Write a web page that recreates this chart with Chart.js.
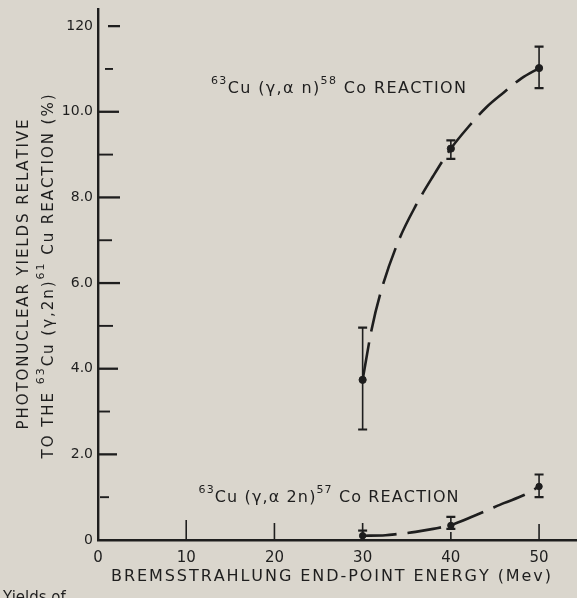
<!DOCTYPE html>
<html><head><meta charset="utf-8">
<script src="https://cdn.jsdelivr.net/npm/chart.js@4/dist/chart.umd.min.js"></script>
<style>html,body{margin:0;padding:0;background:#dad6cd;overflow:hidden}canvas{display:block}</style>
</head><body>
<canvas id="c" width="577" height="598"></canvas>
<script>
// ---- data ----
const energyMeV = [30, 40, 50];
const anYield = [3.74, 9.14, 11.02];
const anErrLow = [2.58, 8.90, 10.55];
const anErrHigh = [4.96, 9.33, 11.52];
const a2nYield = [0.10, 0.34, 1.25];
const a2nErrLow = [0.00, 0.26, 1.00];
const a2nErrHigh = [0.22, 0.54, 1.53];
// hand-drawn fitted curves
const anCurveX = [30, 31, 32, 34, 36, 38, 40, 42, 44, 46, 48, 50];
const anCurveY = [3.74, 4.90, 5.75, 6.95, 7.80, 8.50, 9.14, 9.65, 10.10, 10.45, 10.78, 11.02];
const a2nCurveX = [30, 32.6, 34, 36, 38, 40, 42.6, 44.2, 46, 48.3, 50];
const a2nCurveY = [0.10, 0.11, 0.14, 0.19, 0.26, 0.35, 0.56, 0.70, 0.86, 1.05, 1.25];
// axes
const xTickValues = [0, 10, 20, 30, 40, 50];
const xTickLabels = ['0', '10', '20', '30', '40', '50'];
const yTickValues = [0, 2, 4, 6, 8, 10, 12];
const yTickLabels = ['0', '2.0', '4.0', '6.0', '8.0', '10.0', '120'];
const yMinorTicks = [1, 3, 5, 7, 9, 11];
// texts
const anLabel = [{t:'63',sup:true},{t:'Cu (γ,α n)'},{t:'58',sup:true},{t:' Co REACTION'}];
const a2nLabel = [{t:'63',sup:true},{t:'Cu (γ,α 2n)'},{t:'57',sup:true},{t:' Co REACTION'}];
const yTitle1 = [{t:'PHOTONUCLEAR YIELDS RELATIVE'}];
const yTitle2 = [{t:'TO THE '},{t:'63',sup:true},{t:'Cu (γ,2n)'},{t:'61',sup:true},{t:' Cu REACTION (%)'}];
const xTitle = [{t:'BREMSSTRAHLUNG END-POINT ENERGY (Mev)'}];
const captionText = 'Yields of';

const FONT = '"DejaVu Sans", sans-serif';
const INK = '#1e1e1e';
const BG = '#dad6cd';

function pts(xs, ys){ return xs.map((x,i)=>({x, y: ys[i]})); }

function richMeasure(ctx, segs, st){
  let w = 0, n = 0;
  for (const s of segs){
    ctx.font = `${s.sup ? st.supSize : st.size}px ${FONT}`;
    for (const ch of s.t){ w += ctx.measureText(ch).width; n++; }
  }
  return {w, n};
}
function richDraw(ctx, segs, x0, baseline, st){
  const {w, n} = richMeasure(ctx, segs, st);
  const ls = st.width ? (st.width - w) / (n - 1) : 0;
  const total = w + ls * (n - 1);
  let x = st.align === 'center' ? x0 - total / 2 : x0;
  ctx.textAlign = 'left'; ctx.textBaseline = 'alphabetic';
  for (const s of segs){
    ctx.font = `${s.sup ? st.supSize : st.size}px ${FONT}`;
    for (const ch of s.t){
      ctx.fillText(ch, x, s.sup ? baseline - st.rise : baseline);
      x += ctx.measureText(ch).width + ls;
    }
  }
}

const decor = {
  id: 'decor',
  beforeDraw(chart){
    const ctx = chart.ctx;
    ctx.save(); ctx.fillStyle = BG; ctx.fillRect(0, 0, chart.width, chart.height); ctx.restore();
  },
  afterDatasetsDraw(chart, args, opts){
    const ctx = chart.ctx, xs = chart.scales.x, ys = chart.scales.y;
    ctx.save();
    ctx.strokeStyle = INK; ctx.lineCap = 'butt';
    // error bars
    const bars = [[anYield, anErrLow, anErrHigh], [a2nYield, a2nErrLow, a2nErrHigh]];
    for (const [vals, lo, hi] of bars){
      energyMeV.forEach((e, i) => {
        const px = xs.getPixelForValue(e);
        const pLo = ys.getPixelForValue(lo[i]), pHi = ys.getPixelForValue(hi[i]);
        ctx.lineWidth = 1.6;
        ctx.beginPath(); ctx.moveTo(px, pLo); ctx.lineTo(px, pHi); ctx.stroke();
        ctx.lineWidth = 2.2;
        ctx.beginPath();
        ctx.moveTo(px - opts.cap, pHi); ctx.lineTo(px + opts.cap, pHi);
        if (lo[i] > 0.01){ ctx.moveTo(px - opts.cap, pLo); ctx.lineTo(px + opts.cap, pLo); }
        ctx.stroke();
      });
    }
    // inward tick marks on y axis
    const left = chart.chartArea.left, bottom = chart.chartArea.bottom;
    for (const v of yTickValues.concat(yMinorTicks)){
      if (v === 0) continue;
      const seg = opts.yTickSpan[v];
      const py = ys.getPixelForValue(v);
      ctx.lineWidth = v % 2 === 0 ? 2.3 : 1.9;
      ctx.beginPath(); ctx.moveTo(left + seg[0], py); ctx.lineTo(left + seg[1], py); ctx.stroke();
    }
    // inward tick marks on x axis
    for (const v of xTickValues){
      if (v === 0) continue;
      const px = xs.getPixelForValue(v);
      ctx.lineWidth = 1.6;
      ctx.beginPath(); ctx.moveTo(px, bottom); ctx.lineTo(px, bottom - opts.xTickLen[v]); ctx.stroke();
    }
    ctx.restore();
  },
  afterDraw(chart, args, opts){
    const ctx = chart.ctx, xs = chart.scales.x, ys = chart.scales.y;
    ctx.save();
    ctx.fillStyle = INK;
    // curve labels placed in data coordinates
    richDraw(ctx, anLabel, xs.getPixelForValue(opts.anLabelAt[0]), ys.getPixelForValue(opts.anLabelAt[1]),
      {size: 16, supSize: 11, rise: 9, width: 255});
    richDraw(ctx, a2nLabel, xs.getPixelForValue(opts.a2nLabelAt[0]), ys.getPixelForValue(opts.a2nLabelAt[1]),
      {size: 16, supSize: 11, rise: 9, width: 260});
    // x axis title
    richDraw(ctx, xTitle, 331, 581, {size: 16, supSize: 11, rise: 9, width: 440, align: 'center'});
    // y axis title (two lines, rotated)
    const cy = (chart.chartArea.top + chart.chartArea.bottom) / 2;
    ctx.save(); ctx.translate(28, cy); ctx.rotate(-Math.PI / 2);
    richDraw(ctx, yTitle1, 0, 0, {size: 15, supSize: 11, rise: 9, width: 310, align: 'center'});
    ctx.restore();
    ctx.save(); ctx.translate(53, cy + 2); ctx.rotate(-Math.PI / 2);
    richDraw(ctx, yTitle2, 0, 0, {size: 15, supSize: 11, rise: 9, width: 364, align: 'center'});
    ctx.restore();
    // clipped figure caption
    ctx.font = `15px ${FONT}`; ctx.textAlign = 'left'; ctx.textBaseline = 'alphabetic';
    ctx.fillText(captionText, 3, 602);
    ctx.restore();
  }
};

new Chart(document.getElementById('c'), {
  type: 'scatter',
  data: {
    datasets: [
      { label: 'curve an', data: pts(anCurveX, anCurveY), showLine: true, pointRadius: 0,
        borderColor: INK, borderWidth: 2.6, borderDash: [38, 11], cubicInterpolationMode: 'monotone', order: 3 },
      { label: 'curve a2n', data: pts(a2nCurveX, a2nCurveY), showLine: true, pointRadius: 0,
        borderColor: INK, borderWidth: 2.6, borderDash: [34, 11], cubicInterpolationMode: 'monotone', order: 3 },
      { label: '63Cu(γ,αn)58Co', data: pts(energyMeV, anYield), pointRadius: 3.6,
        backgroundColor: INK, borderColor: INK, order: 1 },
      { label: '63Cu(γ,α2n)57Co', data: pts(energyMeV, a2nYield), pointRadius: 3.2,
        backgroundColor: INK, borderColor: INK, order: 1 }
    ]
  },
  options: {
    responsive: false, animation: false, devicePixelRatio: 1,
    layout: { autoPadding: false, padding: { top: 9, right: 0, left: 0, bottom: 0 } },
    plugins: {
      legend: { display: false }, tooltip: { enabled: false },
      decor: {
        cap: 4.5,
        yTickSpan: {1:[2,11], 2:[0,19], 3:[0,12], 4:[0,20], 5:[0,15], 6:[0,22], 7:[0,14], 8:[0,22], 9:[0,15], 10:[0,21], 11:[7,15], 12:[10,22]},
        xTickLen: {10: 20, 20: 17, 30: 17, 40: 8, 50: 16},
        anLabelAt: [12.8, 10.43],
        a2nLabelAt: [11.4, 0.89]
      }
    },
    scales: {
      x: {
        type: 'linear', min: 0, max: 54.3,
        afterFit: s => { s.height = 58; s.paddingLeft = 0; s.paddingRight = 0; },
        afterBuildTicks: s => { s.ticks = xTickValues.map(v => ({value: v})); },
        grid: { display: false, drawTicks: false },
        border: { display: true, color: INK, width: 2.6 },
        ticks: { color: INK, font: { family: FONT, size: 15 }, padding: 9, maxRotation: 0,
          callback: v => xTickLabels[xTickValues.indexOf(v)] ?? '' }
      },
      y: {
        type: 'linear', min: 0, max: 12.4,
        afterFit: s => { s.width = 98; s.paddingTop = 0; s.paddingBottom = 0; },
        afterBuildTicks: s => { s.ticks = yTickValues.map(v => ({value: v})); },
        grid: { display: false, drawTicks: false },
        border: { display: true, color: INK, width: 2.4 },
        ticks: { color: INK, font: { family: FONT, size: 14 }, padding: 5,
          callback: v => yTickLabels[yTickValues.indexOf(v)] ?? '' }
      }
    }
  },
  plugins: [decor]
});
</script>
</body></html>
